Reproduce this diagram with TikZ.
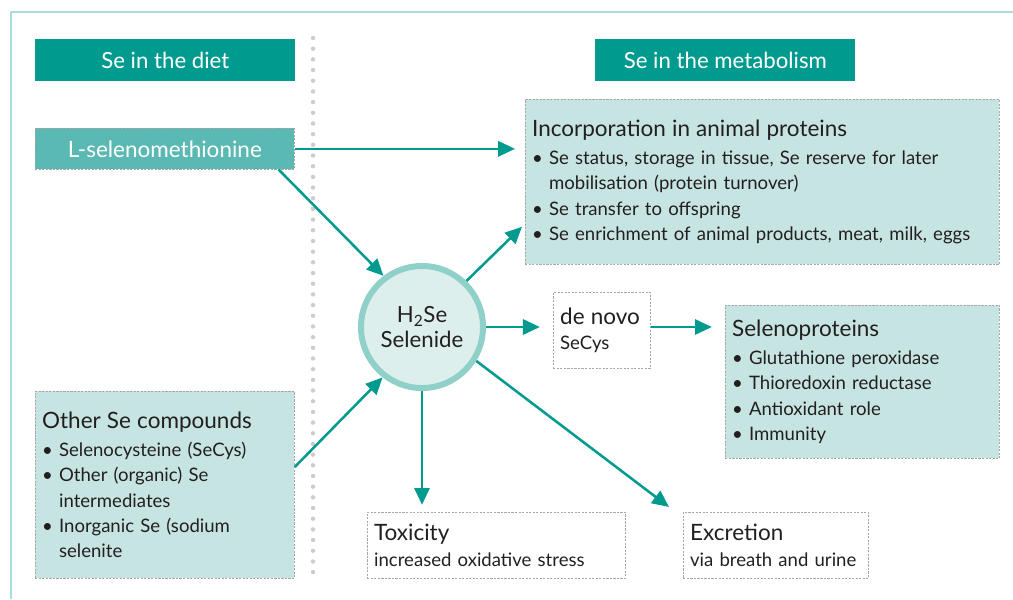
\documentclass[tikz,border=0pt]{standalone}
\usepackage{fontspec}
\setmainfont{Lato}
\usetikzlibrary{arrows.meta,positioning}
\definecolor{seteal}{RGB}{0,155,142}
\definecolor{semid}{RGB}{91,185,179}
\definecolor{selight}{RGB}{198,228,225}
\definecolor{secircle}{RGB}{221,239,236}
\definecolor{seborder}{RGB}{143,208,201}
\definecolor{seframe}{RGB}{169,220,220}
\definecolor{sedots}{RGB}{204,204,204}
\definecolor{setext}{RGB}{35,31,32}
\newcommand{\ttl}[1]{{\fontsize{16}{18}\selectfont #1}}
\newcommand{\itm}{\textbullet\ }
\newcommand{\ind}{\hphantom{\textbullet\ }}
\begin{document}
\begin{tikzpicture}[x=0.025cm,y=-0.025cm,line join=round,>={Triangle[length=0.42cm,width=0.38cm]}]
	\tikzset{box/.style={draw=gray!70,dash pattern=on 1.5pt off 1pt,line width=0.5pt,rectangle,anchor=north west,inner xsep=0.17cm,inner ysep=0pt,align=left,text=setext,font=\fontsize{13.2}{18}\selectfont},
		hdr/.style={fill=seteal,text=white,minimum width=6.5cm,minimum height=1.05cm,anchor=north west,font=\fontsize{15.8}{18}\selectfont},
		arr/.style={->,seteal,line width=1.8pt}}
	\useasboundingbox (0,0) rectangle (1013,599);
	\draw[seframe,line width=1.5pt] (1013,12) -- (11,12) -- (11,599);
	\draw[sedots,line width=0.11cm,line cap=round,dash pattern=on 0pt off 0.267cm] (313,38) -- (313,580);
	% headers
	\node[hdr] (hdiet) at (35,39) {Se in the diet};
	\node[hdr] (hmetab) at (595,39) {Se in the metabolism};
	% boxes
	\node[box,fill=semid,text=white,text width=6.135cm,minimum height=1.025cm,align=center,font=\fontsize{16}{18}\selectfont] (sem) at (35,128) {L-selenomethionine};
	\node[box,fill=selight,text width=11.51cm,minimum height=4.125cm] (incorp) at (525,99) {\ttl{Incorporation in animal proteins}\\[2pt]
		\itm Se status, storage in tissue, Se reserve for later\\ \ind mobilisation (protein turnover)\\
		\itm Se transfer to offspring\\ \itm Se enrichment of animal products, meat, milk, eggs};
	\node[circle,draw=seborder,fill=secircle,line width=0.15cm,minimum size=3.05cm,align=center,text=setext,font=\fontsize{15.8}{18}\selectfont] (selenide) at (422,327) {H\textsubscript{2}Se\\Selenide};
	\node[box,fill=white,text width=2.085cm,minimum height=1.9cm] (denovo) at (553,292) {\ttl{de novo}\\ SeCys};
	\node[box,fill=selight,text width=6.51cm,minimum height=3.825cm] (selenoprot) at (725,305) {\ttl{Selenoproteins}\\[2pt]
		\itm Glutathione peroxidase\\ \itm Thioredoxin reductase\\ \itm Antioxidant role\\ \itm Immunity};
	\node[box,fill=selight,text width=6.135cm,minimum height=4.675cm] (otherse) at (35,391) {\ttl{Other Se compounds}\\[2pt]
		\itm Selenocysteine (SeCys)\\ \itm Other (organic) Se\\ \ind intermediates\\ \itm Inorganic Se (sodium\\ \ind selenite};
	\node[box,fill=white,text width=6.11cm,minimum height=1.65cm] (toxic) at (367,512) {\ttl{Toxicity}\\ increased oxidative stress};
	\node[box,fill=white,text width=4.285cm,minimum height=1.65cm] (excret) at (683,512) {\ttl{Excretion}\\ via breath and urine};
	% arrows
	\draw[arr,shorten >=0.25cm] (sem.east) -- (sem.east -| incorp.west);
	\draw[arr] ([xshift=-0.4cm]sem.south east) -- (selenide.127);
	\draw[arr] (selenide.46) -- ([shift={(-3,-38)}]incorp.south west);
	\draw[arr] ([shift={(0,76)}]otherse.north east) -- (selenide.232);
	\draw[arr,shorten >=0.33cm] (selenide.east) -- (selenide.east -| denovo.west);
	\draw[arr,shorten >=0.33cm] (denovo.east |- selenide.east) -- (selenide.east -| selenoprot.west);
	\draw[arr,shorten >=0.18cm] (selenide.south) -- (selenide.south |- toxic.north);
	\draw[arr] (selenide.-32) -- ([shift={(-14,-5)}]excret.north west);
\end{tikzpicture}
\end{document}
